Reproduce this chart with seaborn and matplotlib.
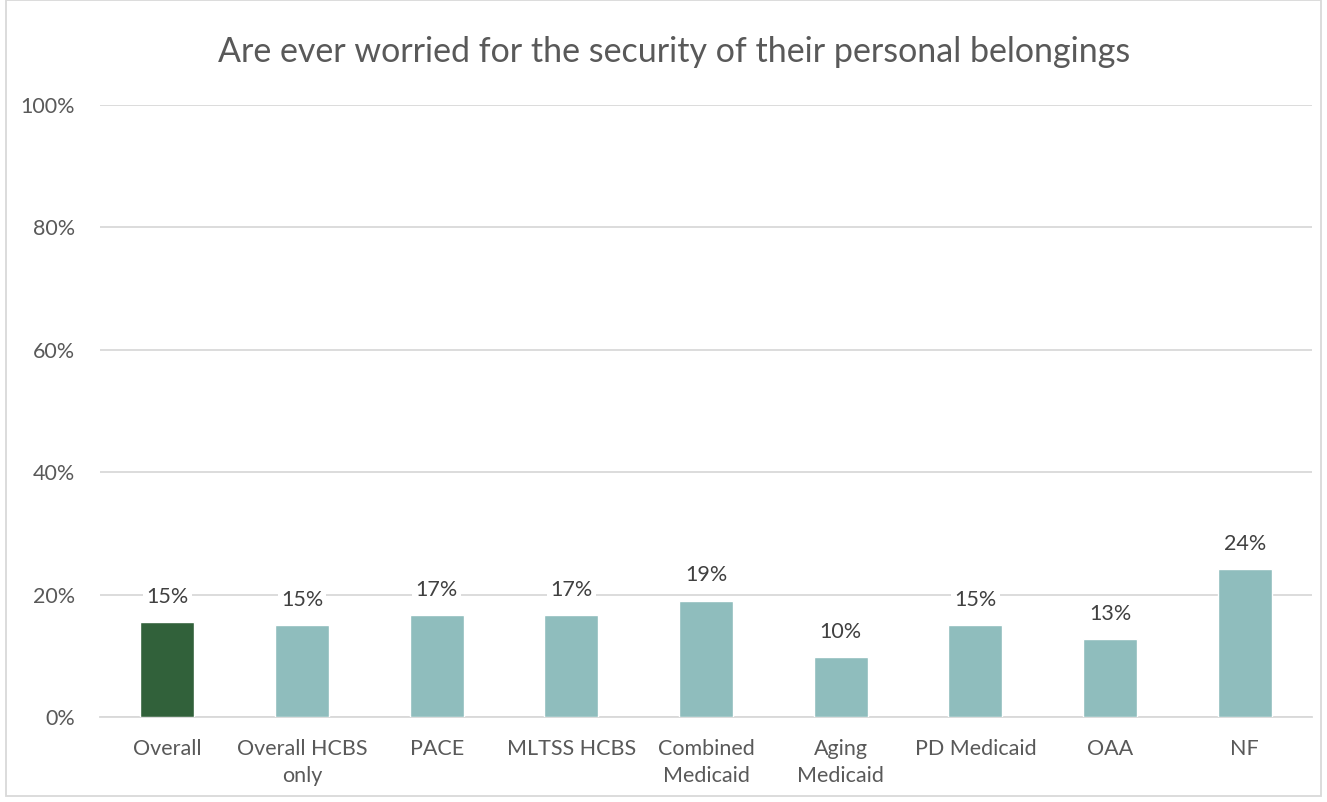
import matplotlib
matplotlib.use("Agg")
import matplotlib.pyplot as plt
import seaborn as sns
import pandas as pd
from matplotlib.patches import Rectangle

categories = ["Overall", "Overall HCBS\nonly", "PACE", "MLTSS HCBS", "Combined\nMedicaid",
              "Aging\nMedicaid", "PD Medicaid", "OAA", "NF"]
values = [15.5, 15.0, 16.7, 16.7, 19.0, 9.8, 15.0, 12.7, 24.2]
labels = ["15%", "15%", "17%", "17%", "19%", "10%", "15%", "13%", "24%"]
colors = ["#31613A"] + ["#8FBDBD"] * 8
yticks = [0, 20, 40, 60, 80, 100]
ytick_labels = ["0%", "20%", "40%", "60%", "80%", "100%"]
title = "Are ever worried for the security of their personal belongings"

sns.set_theme(style="white")
plt.rcParams['font.family'] = ['Lato', 'DejaVu Sans']
txt = "#595959"

fig = plt.figure(figsize=(13.27, 8.02), dpi=100)
ax = fig.add_axes([100/1327, 85/802, 1212/1327, 612/802])

df = pd.DataFrame({"cat": categories, "val": values})
sns.barplot(data=df, x="cat", y="val", hue="cat", palette=colors, legend=False,
            width=0.40, ax=ax, saturation=1, zorder=3)

ax.set_ylim(0, 100)
ax.set_xlim(-0.5, len(categories) - 0.5)
ax.set_yticks(yticks)
ax.set_yticklabels(ytick_labels, fontsize=15.5, color=txt)
ax.tick_params(axis='y', length=0, pad=18)
ax.tick_params(axis='x', length=0, pad=16, labelsize=15.5, labelcolor=txt)
ax.set_xlabel("")
ax.set_ylabel("")
for t in ax.get_xticklabels():
    t.set_linespacing(1.45)
ax.yaxis.grid(True, color="#D9D9D9", linewidth=1.3, zorder=0)
ax.set_axisbelow(True)
for s in ["top", "right", "left"]:
    ax.spines[s].set_visible(False)
ax.spines["bottom"].set_color("#D9D9D9")
ax.spines["bottom"].set_linewidth(1.3)

for i, (v, lab) in enumerate(zip(values, labels)):
    ax.annotate(lab, (i, v), xytext=(0, 11), textcoords="offset points",
                ha="center", va="bottom", fontsize=15.5, color="#404040",
                bbox=dict(boxstyle="square,pad=0.15", fc="white", ec="none"), zorder=5)

fig.text(674/1327, 1 - 52/802, title, ha="center", va="center", fontsize=24.5, color=txt)

fig.patches.append(Rectangle((6/1327, 6/802), 1 - 12/1327, 1 - 6/802, transform=fig.transFigure,
                             fill=False, ec="#D9D9D9", lw=1.3))

fig.savefig("out.png", dpi=100)
